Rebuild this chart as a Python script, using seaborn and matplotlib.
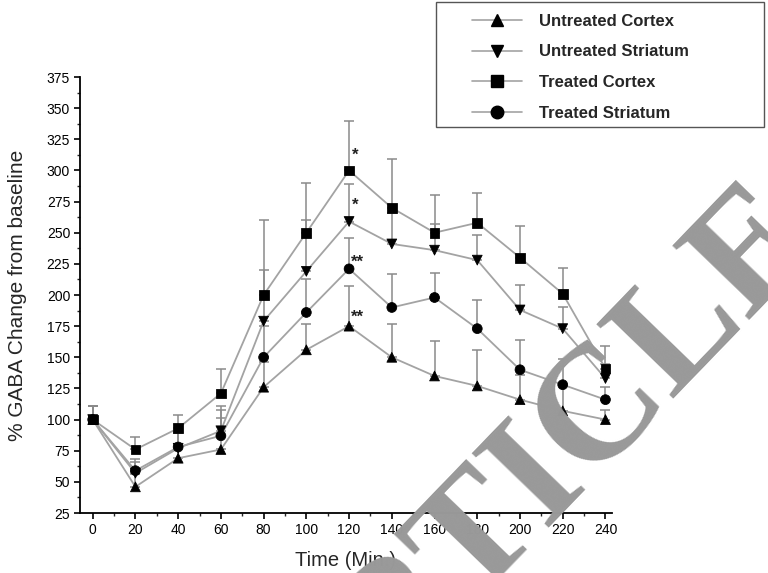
import numpy as np
import pandas as pd
import matplotlib
matplotlib.use("Agg")
import matplotlib.pyplot as plt
from matplotlib.lines import Line2D
from matplotlib.patches import Rectangle
from matplotlib.ticker import MultipleLocator
import seaborn as sns

# ---- data ----
time = [0, 20, 40, 60, 80, 100, 120, 140, 160, 180, 200, 220, 240]
series_names = ["Untreated Cortex", "Untreated Striatum", "Treated Cortex", "Treated Striatum"]
untreated_cortex = [100, 46, 69, 76, 126, 156, 175, 150, 135, 127, 116, 107, 100]
untreated_cortex_err = [11, 10, 10, 25, 20, 21, 32, 27, 28, 29, 20, 20, 8]
untreated_striatum = [100, 57, 77, 91, 179, 219, 259, 241, 236, 228, 188, 173, 133]
untreated_striatum_err = [11, 9, 12, 20, 41, 41, 30, 25, 21, 20, 20, 17, 12]
treated_cortex = [100, 76, 93, 121, 200, 250, 300, 270, 250, 258, 230, 201, 141]
treated_cortex_err = [11, 10, 11, 20, 60, 40, 40, 39, 30, 24, 25, 21, 18]
treated_striatum = [100, 59, 78, 87, 150, 186, 221, 190, 198, 173, 140, 128, 116]
treated_striatum_err = [11, 9, 12, 21, 25, 27, 25, 27, 20, 23, 24, 21, 10]

values = [untreated_cortex, untreated_striatum, treated_cortex, treated_striatum]
errors = [untreated_cortex_err, untreated_striatum_err, treated_cortex_err, treated_striatum_err]
marker_map = {"Untreated Cortex": "^", "Untreated Striatum": "v",
              "Treated Cortex": "s", "Treated Striatum": "o"}

# significance marks: (label, x, y)
sig_labels = ["*", "*", "**", "**"]
sig_x = [121.5, 121.5, 121.0, 121.0]
sig_y = [312, 272, 226, 182]

df = pd.concat([pd.DataFrame({"time": time, "value": v, "err": e, "group": n})
                for n, v, e in zip(series_names, values, errors)], ignore_index=True)

sns.set_style("ticks")
plt.rcParams["font.family"] = ["Liberation Sans", "DejaVu Sans"]

fig = plt.figure(figsize=(7.68, 5.73), dpi=100)
ax = fig.add_axes([0.104, 0.1047, 0.6927, 0.7609])

line_col = "#a3a3a3"
err_col = "#8a8a8a"

for n in series_names:
    sub = df[df.group == n]
    ax.errorbar(sub.time, sub.value, yerr=[np.zeros(len(sub)), sub.err], fmt="none",
                ecolor=err_col, elinewidth=1.1, capsize=3.5, capthick=1.1, zorder=1)

sns.lineplot(data=df, x="time", y="value", units="group", estimator=None,
             color=line_col, lw=1.3, legend=False, ax=ax, zorder=2)
sns.scatterplot(data=df, x="time", y="value", style="group", markers=marker_map,
                color="black", edgecolor="black", s=50, legend=False, ax=ax, zorder=3)

for lab, sx, sy in zip(sig_labels, sig_x, sig_y):
    ax.text(sx, sy, lab, fontsize=12, fontweight="bold", ha="left", va="center",
            color="#222222")

ax.set_xlim(-6, 243)
ax.set_ylim(25, 375)
ax.xaxis.set_major_locator(MultipleLocator(20))
ax.xaxis.set_minor_locator(MultipleLocator(10))
ax.yaxis.set_major_locator(MultipleLocator(25))
ax.yaxis.set_minor_locator(MultipleLocator(12.5))
ax.tick_params(which="major", direction="out", length=4, width=1.2, labelsize=10,
               colors="black", pad=3)
ax.tick_params(which="minor", direction="out", length=2.5, width=1.0)
for s in ["top", "right"]:
    ax.spines[s].set_visible(False)
for s in ["left", "bottom"]:
    ax.spines[s].set_linewidth(1.3)
    ax.spines[s].set_color("black")

ax.set_xlabel("Time (Min.)", fontsize=14.5, labelpad=10)
ax.set_ylabel("% GABA Change from baseline", fontsize=15, labelpad=14)

# legend box (drawn as a figure rectangle) and entries
fig.patches.append(Rectangle((436 / 768, 1 - 127 / 573), (764 - 436) / 768, 125 / 573,
                             transform=fig.transFigure, facecolor="white",
                             edgecolor="#555555", linewidth=1.0, zorder=5))
handles = [Line2D([], [], color=line_col, lw=1.2, marker=marker_map[n],
                  markerfacecolor="black", markeredgecolor="black", markersize=9)
           for n in series_names]
leg = fig.legend(handles, series_names, loc="upper left",
                 bbox_to_anchor=(472 / 768, 1 - 14 / 573),
                 prop={"weight": "bold", "size": 12}, frameon=False,
                 handlelength=3.0, handletextpad=1.0, labelspacing=0.93,
                 borderpad=0, borderaxespad=0)
leg.set_zorder(6)

# watermark
fig.text(538 / 768, 1 - 481 / 573, "ARTICLE", rotation=46, rotation_mode="anchor",
         ha="center", va="center", fontsize=118, fontweight="bold",
         family=["Liberation Serif", "DejaVu Serif"], color="#999999", zorder=10)

fig.savefig("out.png", dpi=100)
